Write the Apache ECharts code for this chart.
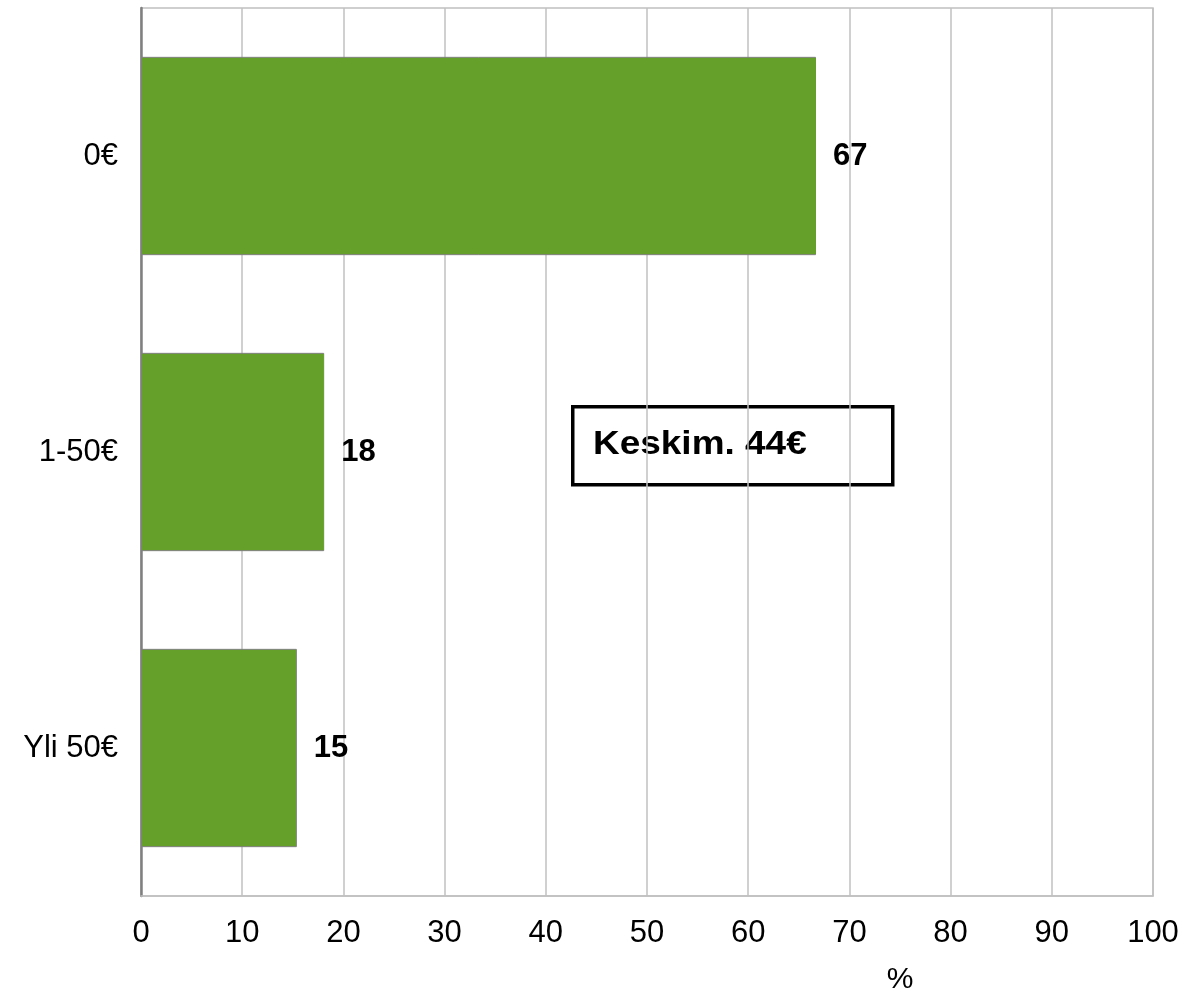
<!DOCTYPE html>
<html>
<head>
<meta charset="utf-8">
<script src="https://cdn.jsdelivr.net/npm/echarts@6/dist/echarts.min.js"></script>
<style>
  html, body { margin: 0; padding: 0; background: #fff; }
  #chart { width: 1189px; height: 995px; }
</style>
</head>
<body>
<div id="chart"></div>
<script>
  const categories = ['0€', '1-50€', 'Yli 50€']
  const shares = [66.7, 18.1, 15.4]
  const shareLabels = ['67', '18', '15']
  const meanText = 'Keskim. 44€'

  const font = 'Liberation Sans, Arial, sans-serif'
  const chart = echarts.init(document.getElementById('chart'))

  const option = {
    animation: false,
    textStyle: { fontFamily: font },
    grid: {
      left: 141,
      right: 36,
      top: 8,
      bottom: 99,
      show: true,
      borderColor: '#c0c0c0',
      borderWidth: 1.5,
    },
    xAxis: {
      type: 'value',
      min: 0,
      max: 100,
      interval: 10,
      axisLine: { show: true, lineStyle: { color: '#c0c0c0', width: 1.5 } },
      axisTick: { show: false },
      axisLabel: { color: '#000', fontSize: 31, fontFamily: font, margin: 22 },
      splitLine: { lineStyle: { color: '#c0c0c0', width: 1.5 } },
    },
    yAxis: {
      type: 'category',
      data: categories,
      inverse: true,
      axisLine: { show: true, lineStyle: { color: '#808080', width: 2.5 } },
      axisTick: { show: false },
      axisLabel: { color: '#000', fontSize: 31, fontFamily: font, margin: 23 },
    },
    series: [
      {
        type: 'bar',
        data: shares,
        barCategoryGap: '33%',
        itemStyle: { color: '#65a02a', borderColor: '#808080', borderWidth: 1 },
        label: {
          show: true,
          position: 'right',
          distance: 17,
          color: '#000',
          fontSize: 31,
          fontFamily: font,
          fontWeight: 'bold',
          formatter: (p) => shareLabels[p.dataIndex],
        },
      },
    ],
    graphic: [
      {
        type: 'rect',
        left: 571,
        top: 405,
        shape: { width: 320, height: 78 },
        style: { fill: '#fff', stroke: '#000', lineWidth: 3.5 },
      },
      {
        type: 'text',
        x: 593,
        y: 445,
        scaleX: 1.12,
        style: {
          text: meanText,
          fill: '#000',
          font: 'bold 33px ' + font,
          verticalAlign: 'middle',
        },
      },
      {
        type: 'text',
        x: 900,
        y: 980,
        style: {
          text: '%',
          fill: '#000',
          font: '30px ' + font,
          align: 'center',
          verticalAlign: 'middle',
        },
      },
    ],
  }

  chart.setOption(option)
</script>
</body>
</html>
